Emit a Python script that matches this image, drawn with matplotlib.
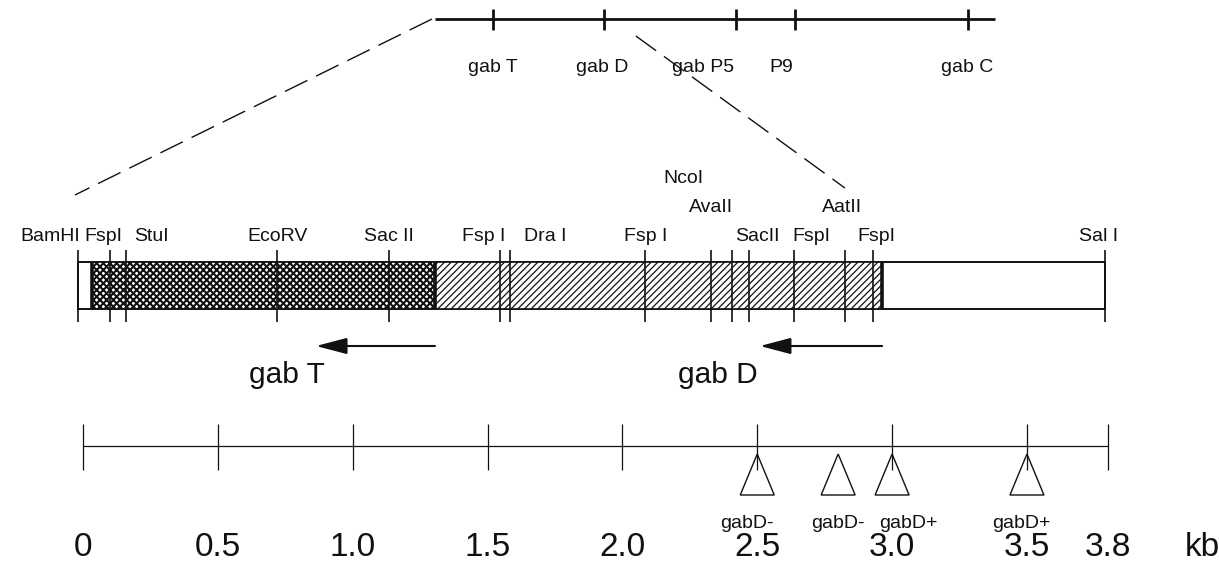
import numpy as np
import matplotlib
matplotlib.use("Agg")
import matplotlib.pyplot as plt
from matplotlib.patches import Rectangle, Polygon

plt.rcParams.update({
    "font.family": ["Liberation Sans", "DejaVu Sans"],
    "hatch.linewidth": 0.9,
})
INK = "#111111"

# ---- chromosome region (top) ----
gene_names = ["gab T", "gab D", "gab P5", "P9", "gab C"]
gene_pos = [1.52, 1.93, 2.42, 2.64, 3.28]
chrom_span = [1.305, 3.38]

# ---- restriction map (kb) ----
site_names = ["BamHI", "FspI", "StuI", "EcoRV", "Sac II", "Fsp I", "Dra I",
              "Fsp I", "NcoI", "AvaII", "SacII", "FspI", "AatII", "FspI",
              "Sal I"]
site_kb = [-0.02, 0.10, 0.16, 0.72, 1.135, 1.545, 1.585, 2.085, 2.33, 2.405,
           2.47, 2.635, 2.825, 2.93, 3.79]
gabT_span = [0.033, 1.305]
gabD_span = [1.305, 2.963]

# ---- transposon insertions ----
ins_kb = [2.5, 2.8, 3.0, 3.5]
ins_names = ["gabD-", "gabD-", "gabD+", "gabD+"]

# ---- scale ----
scale_kb = [0, 0.5, 1.0, 1.5, 2.0, 2.5, 3.0, 3.5, 3.8]
scale_lbl = ["0", "0.5", "1.0", "1.5", "2.0", "2.5", "3.0", "3.5", "3.8"]

# layout only: label offsets (kb) and baselines (px from top)
lbl_dx = [-0.10, -0.025, 0.095, 0.0, 0.0, -0.06, 0.13, 0.0, -0.105,
          -0.075, 0.03, 0.065, -0.01, 0.01, -0.025]
lbl_y = [241, 241, 241, 241, 241, 241, 241, 241, 183, 212, 241, 241, 212,
         241, 241]
gene_dx = [0.0, -0.005, -0.12, -0.05, 0.0]
ins_dx = [-0.04, 0.0, 0.06, -0.02]

fig = plt.figure(figsize=(12.19, 5.68), dpi=100)
ax = fig.add_axes([0, 0, 1, 1])
ax.set_xlim(-83 / 269.7, (1219 - 83) / 269.7)
ax.set_ylim(568, 0)
ax.axis("off")

# top chromosome line
ax.plot(chrom_span, [19, 19], color=INK, lw=2.0, solid_capstyle="butt")
ax.vlines(gene_pos, 9, 30, color=INK, lw=2.0)
for g, x, dx in zip(gene_names, gene_pos, gene_dx):
    ax.text(x + dx, 72, g, fontsize=14, ha="center", va="baseline", color=INK)

# dashed zoom lines
ax.plot([1.294, -0.03], [19, 195], color=INK, lw=1.0, ls=(0, (18, 7)))
ax.plot([2.05, 2.825], [36, 188], color=INK, lw=1.0, ls=(0, (18, 7)))

# map bar
y0, h = 262, 47
ax.add_patch(Rectangle((site_kb[0], y0), site_kb[-1] - site_kb[0], h,
                       facecolor="white", edgecolor=INK, lw=1.2))
with plt.rc_context({"hatch.linewidth": 1.5}):
    ax.add_patch(Rectangle((gabT_span[0], y0), gabT_span[1] - gabT_span[0], h,
                           facecolor="white", edgecolor=INK, lw=0,
                           hatch="xxxxx"))
ax.add_patch(Rectangle((gabD_span[0], y0), gabD_span[1] - gabD_span[0], h,
                       facecolor="white", edgecolor=INK, lw=0, hatch="/////"))
ax.add_patch(Rectangle((site_kb[0], y0), site_kb[-1] - site_kb[0], h,
                       fill=False, edgecolor=INK, lw=1.2))
ax.vlines([gabT_span[0], gabT_span[1], gabD_span[1]], y0, y0 + h,
          color=INK, lw=2.6)
ax.vlines(site_kb, 250, 322, color=INK, lw=1.2)
for n, x, dx, yy in zip(site_names, site_kb, lbl_dx, lbl_y):
    ax.text(x + dx, yy, n, fontsize=14, ha="center", va="baseline", color=INK)

# transcription arrows
for tail, tip in [(gabT_span[1], 0.864), (gabD_span[1], 2.51)]:
    ax.annotate("", xy=(tip, 346), xytext=(tail, 346),
                arrowprops=dict(arrowstyle="-|>,head_length=0.95,head_width=0.25",
                                mutation_scale=20, lw=1.5, color=INK,
                                shrinkA=0, shrinkB=0))
ax.text(0.756, 383, "gab T", fontsize=21.5, ha="center", va="baseline", color=INK)
ax.text(2.354, 383, "gab D", fontsize=21.5, ha="center", va="baseline", color=INK)

# scale bar
ax.plot([scale_kb[0], scale_kb[-1]], [446, 446], color=INK, lw=0.9)
ax.vlines(scale_kb, 424, 470, color=INK, lw=0.9)
for x, s in zip(scale_kb, scale_lbl):
    ax.text(x, 556, s, fontsize=24, ha="center", va="baseline", color=INK)
ax.text(4.15, 556, "kb", fontsize=24, ha="center", va="baseline", color=INK)

# insertion triangles
for x, n, dx in zip(ins_kb, ins_names, ins_dx):
    ax.add_patch(Polygon([(x, 454), (x - 0.063, 495), (x + 0.063, 495)],
                         closed=True, fill=False, edgecolor=INK, lw=1.0))
    ax.text(x + dx, 528, n, fontsize=14, ha="center", va="baseline", color=INK)

fig.savefig("out.png", dpi=100, facecolor="white")
